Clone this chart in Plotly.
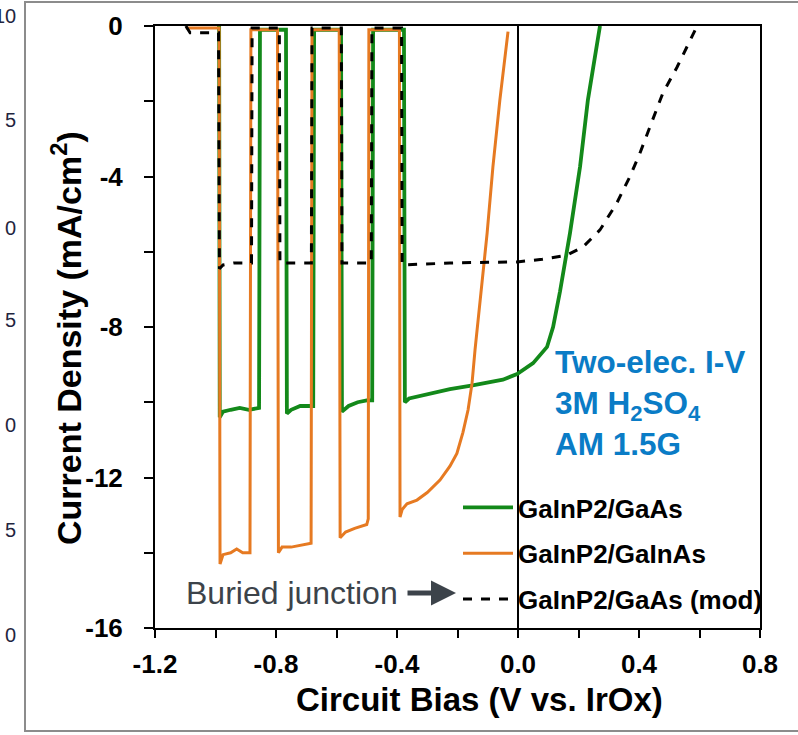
import plotly.graph_objects as go

# ---------------- data ----------------
# GaInP2/GaAs (green)
v_gaas = [-0.995, -0.988, -0.986, -0.975, -0.95, -0.92, -0.89, -0.856, -0.853, -0.767,
          -0.764, -0.75, -0.72, -0.70, -0.677, -0.674, -0.585, -0.582, -0.56, -0.53,
          -0.50, -0.482, -0.479, -0.377, -0.374, -0.36, -0.334, -0.258, -0.225, -0.15,
          -0.116, -0.05, -0.003, 0.05, 0.096, 0.116, 0.139, 0.172, 0.205,
          0.231, 0.271]
j_gaas = [-0.05, -0.05, -10.4, -10.25, -10.2, -10.15, -10.2, -10.15, -0.1, -0.1,
          -10.3, -10.2, -10.1, -10.1, -10.1, -0.1, -0.1, -10.25, -10.1, -10.0,
          -9.95, -9.95, -0.1, -0.1, -10.0, -9.9, -9.85, -9.72, -9.65, -9.55,
          -9.5, -9.4, -9.25, -8.96, -8.53, -8.0, -7.05, -5.5, -3.75,
          -1.97, 0.0]

# GaInP2/GaInAs (orange)
v_gainas = [-1.098, -0.988, -0.985, -0.975, -0.95, -0.93, -0.91, -0.886, -0.883, -0.795,
            -0.792, -0.78, -0.75, -0.72, -0.684, -0.681, -0.591, -0.588, -0.57, -0.54,
            -0.50, -0.495, -0.493, -0.392, -0.390, -0.383, -0.367, -0.334, -0.30, -0.258,
            -0.225, -0.202, -0.182, -0.165, -0.152, -0.142, -0.126, -0.102, -0.083, -0.060,
            -0.033]
j_gainas = [-0.05, -0.05, -14.3, -14.05, -14.0, -13.9, -14.0, -14.0, -0.1, -0.1,
            -14.0, -13.85, -13.85, -13.8, -13.75, -0.1, -0.1, -13.6, -13.45, -13.35,
            -13.25, -13.1, -0.1, -0.1, -13.05, -12.85, -12.7, -12.6, -12.4, -12.07,
            -11.7, -11.36, -10.8, -10.2, -9.5, -8.6, -7.4, -5.5, -3.75, -1.97,
            -0.15]

# GaInP2/GaAs (mod) (black dashed)
v_mod = [-1.098, -1.084, -0.99, -0.987, -0.975, -0.94, -0.90, -0.881, -0.879, -0.789,
         -0.787, -0.74, -0.683, -0.681, -0.584, -0.582, -0.53, -0.485, -0.483, -0.385,
         -0.383, -0.30, -0.225, -0.10, -0.003, 0.08, 0.162, 0.215, 0.271, 0.327,
         0.370, 0.403, 0.436, 0.479, 0.526, 0.559, 0.592]
j_mod = [0.0, -0.18, -0.18, -6.45, -6.35, -6.3, -6.3, -6.3, -0.05, -0.05,
         -6.3, -6.3, -6.3, -0.05, -0.05, -6.3, -6.3, -6.3, -0.05, -0.05,
         -6.35, -6.32, -6.3, -6.28, -6.27, -6.2, -6.09, -5.87, -5.42, -4.7,
         -4.0, -3.38, -2.68, -1.78, -1.09, -0.56, 0.0]

series_names = ["GaInP2/GaAs", "GaInP2/GaInAs", "GaInP2/GaAs (mod)"]
x_ticks = [-1.2, -0.8, -0.4, 0.0, 0.4, 0.8]
x_tick_labels = ["-1.2", "-0.8", "-0.4", "0.0", "0.4", "0.8"]
y_ticks = [0, -4, -8, -12, -16]
y_tick_labels = ["0", "-4", "-8", "-12", "-16"]
clipped_labels = ["10", "5", "0", "5", "0", "5", "0"]
x_title = "Circuit Bias (V vs. IrOx)"
y_title = "Current Density (mA/cm<sup>2</sup>)"

FONT = "Liberation Sans, Arial, sans-serif"
GREEN = "#13891a"
ORANGE = "#e67a22"

fig = go.Figure()
fig.add_trace(go.Scatter(x=v_gaas, y=j_gaas, mode="lines", name=series_names[0],
                         line=dict(color=GREEN, width=3.8), legendgroup="a"))
fig.add_trace(go.Scatter(x=v_gainas, y=j_gainas, mode="lines", name=series_names[1],
                         line=dict(color=ORANGE, width=3), legendgroup="b"))
fig.add_trace(go.Scatter(x=v_mod, y=j_mod, mode="lines", name=series_names[2],
                         line=dict(color="black", width=3, dash="dash"), legendgroup="c"))

# plot geometry (pixels)
L, R, T, B = 155, 760, 26, 628
W, H = 798, 735


def px(xp):
    return (xp - L) / (R - L)


def py(yp):
    return (B - yp) / (B - T)


fig.update_layout(
    width=W, height=H,
    margin=dict(l=L, r=W - R, t=T, b=H - B, pad=0),
    paper_bgcolor="white", plot_bgcolor="white",
    font=dict(family=FONT, color="black"),
    showlegend=True,
    legend=dict(x=px(458), y=py(484), xanchor="left", yanchor="top",
                bgcolor="rgba(0,0,0,0)", borderwidth=0,
                font=dict(family=FONT, size=26, color="black", weight="bold"),
                traceorder="grouped", tracegroupgap=9, itemwidth=50),
    xaxis=dict(range=[-1.2, 0.8], tickvals=x_ticks, ticktext=x_tick_labels,
               showgrid=False, zeroline=True, zerolinecolor="black", zerolinewidth=1.5,
               showline=True, linecolor="black", linewidth=2, mirror=True,
               ticks="outside", ticklen=8, tickwidth=2, tickcolor="black",
               minor=dict(tickvals=[-1.0, -0.6, -0.2, 0.2, 0.6], ticks="outside",
                          ticklen=8, tickwidth=2, tickcolor="black"),
               tickfont=dict(family=FONT, size=26, color="black", weight="bold"),
               ticklabelstandoff=4),
    yaxis=dict(range=[-16, 0], tickvals=y_ticks, ticktext=y_tick_labels,
               showgrid=False, zeroline=False,
               showline=True, linecolor="black", linewidth=2, mirror=True,
               ticks="outside", ticklen=9, tickwidth=2, tickcolor="black",
               minor=dict(tickvals=[-2, -6, -10, -14], ticks="outside",
                          ticklen=9, tickwidth=2, tickcolor="black"),
               tickfont=dict(family=FONT, size=26, color="black", weight="bold"),
               ticklabelstandoff=16),
)

# axis titles (placed as in the reference, slightly off-centre)
fig.add_annotation(xref="paper", yref="paper", x=px(479), y=py(699), xanchor="center",
                   yanchor="middle", text=x_title, showarrow=False,
                   font=dict(family=FONT, size=33, color="black", weight="bold"))
fig.add_annotation(xref="paper", yref="paper", x=px(66), y=py(338), xanchor="center",
                   yanchor="middle", text=y_title, showarrow=False, textangle=-90,
                   font=dict(family=FONT, size=34, color="black", weight="bold"))

# outer slide frame
fig.add_shape(type="rect", xref="paper", yref="paper",
              x0=px(25), x1=px(805), y0=py(731), y1=py(2),
              line=dict(color="#8c8c8c", width=2), layer="below")

# text annotations
fig.add_annotation(xref="paper", yref="paper", x=px(553), y=py(342), xanchor="left", yanchor="top",
                   text="Two-elec. I-V<br>3M H<sub>2</sub>SO<sub>4</sub><br>AM 1.5G",
                   showarrow=False, align="left",
                   font=dict(family=FONT, size=31.5, color="#0a7cc6", weight="bold"))
fig.add_annotation(xref="paper", yref="paper", x=px(184), y=py(593), xanchor="left", yanchor="middle",
                   text="Buried junction", showarrow=False,
                   font=dict(family=FONT, size=32, color="#3c434a"))
fig.add_annotation(xref="paper", yref="paper", x=px(456), y=py(593), ax=-50, ay=0,
                   text="", showarrow=True, arrowhead=2, arrowsize=1, arrowwidth=5,
                   arrowcolor="#3c434a")

# clipped tick labels of a neighbouring chart at the left page edge
for i, lab in enumerate(clipped_labels):
    ypix = [16, 120, 228, 320, 425, 530, 635][i]
    fig.add_annotation(xref="paper", yref="paper", x=px(18), y=py(ypix), xanchor="right",
                       yanchor="middle", text=lab, showarrow=False,
                       font=dict(family=FONT, size=20, color="#1f2540"))

fig.write_html("out.html")
